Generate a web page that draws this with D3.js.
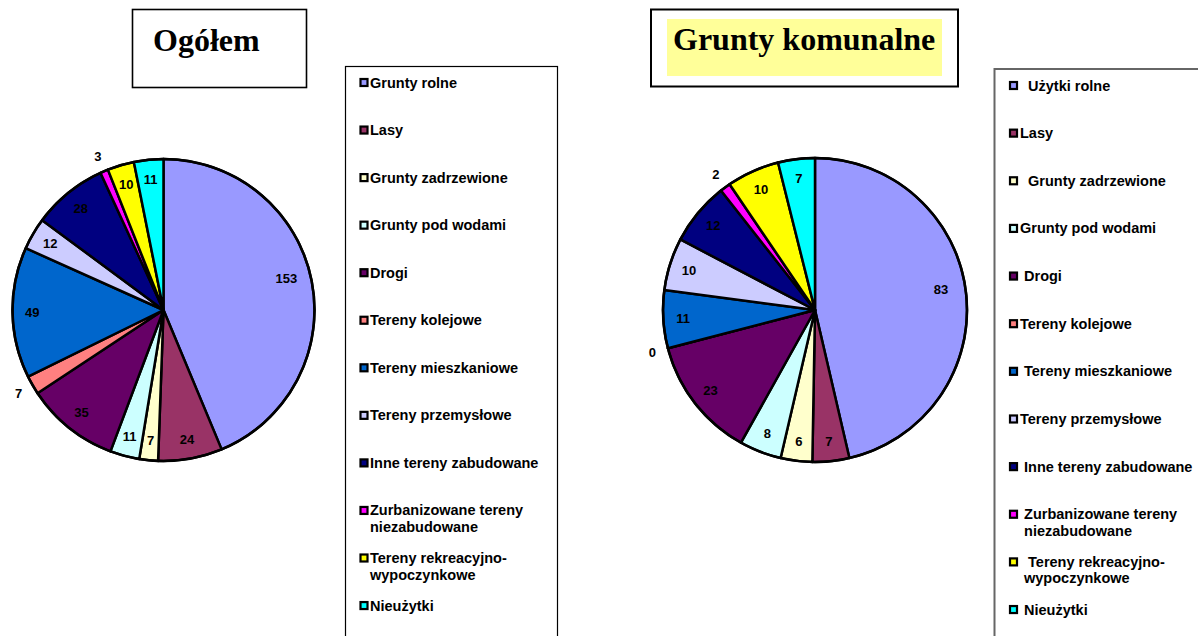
<!DOCTYPE html>
<html><head><meta charset="utf-8">
<script src="https://cdn.jsdelivr.net/npm/d3@7"></script>
<style>body{margin:0;background:#fff} svg{display:block}</style>
</head><body><svg id="c" width="1198" height="636"></svg>
<script>
const leftTitle = "Ogółem";
const rightTitle = "Grunty komunalne";
const leftCategories = ["Grunty rolne","Lasy","Grunty zadrzewione","Grunty pod wodami","Drogi","Tereny kolejowe","Tereny mieszkaniowe","Tereny przemysłowe","Inne tereny zabudowane","Zurbanizowane tereny\nniezabudowane","Tereny rekreacyjno-\nwypoczynkowe","Nieużytki"];
const rightCategories = ["  Użytki rolne","Lasy","  Grunty zadrzewione","Grunty pod wodami"," Drogi","Tereny kolejowe"," Tereny mieszkaniowe","Tereny przemysłowe"," Inne tereny zabudowane"," Zurbanizowane tereny\n niezabudowane","  Tereny rekreacyjno-\n wypoczynkowe"," Nieużytki"];
const leftValues = [153,24,7,11,35,7,49,12,28,3,10,11];
const rightValues = [83,7,6,8,23,0,11,10,12,2,10,7];
const sliceColors = ["#9999FF","#993366","#FFFFCC","#CCFFFF","#660066","#FF8080","#0066CC","#CCCCFF","#000080","#FF00FF","#FFFF00","#00FFFF"];

const svg = d3.select("#c");
const SANS = "'Liberation Sans', Arial, sans-serif";
const SERIF = "'Liberation Serif', 'Times New Roman', serif";

function drawPie(values, cx, cy, r) {
  const g = svg.append("g").attr("transform", `translate(${cx},${cy})`);
  const pie = d3.pie().sort(null).value(d => d);
  const arcs = pie(values);
  const arc = d3.arc().innerRadius(0).outerRadius(r);
  g.selectAll("path.slice").data(arcs).join("path")
    .attr("class", "slice")
    .attr("d", arc)
    .attr("fill", (d, i) => sliceColors[i])
    .attr("stroke", "#000")
    .attr("stroke-width", 2.5)
    .attr("stroke-linejoin", "round");
  g.append("circle").attr("r", r).attr("fill", "none").attr("stroke", "#000").attr("stroke-width", 2.5);
  const fs = 13;
  g.selectAll("text.lbl").data(arcs).join("text")
    .attr("class", "lbl")
    .each(function(d) {
      let phi = (d.startAngle + d.endAngle) / 2;
      const span = d.endAngle - d.startAngle;
      const w = String(d.data).length * 0.556 * fs;
      const h = 0.72 * fs;
      const big = span > Math.PI * 0.6;
      let rho = big ? 0.84 * r : 0.87 * r;
      if (big) phi -= 0.05;
      const extent = w * Math.abs(Math.cos(phi)) + h * Math.abs(Math.sin(phi));
      const avail = rho * span;
      if (avail < extent + 6) rho = r + 16;
      d3.select(this)
        .attr("x", rho * Math.sin(phi))
        .attr("y", -rho * Math.cos(phi));
    })
    .attr("text-anchor", "middle")
    .attr("dominant-baseline", "central")
    .attr("font-family", SANS)
    .attr("font-weight", "bold")
    .attr("font-size", fs)
    .attr("fill", "#000")
    .text(d => d.data);
}

function drawLegend(cats, bx, by, bw, bStroke, bWidth, mx, tx, y0, step) {
  svg.append("rect").attr("x", bx).attr("y", by).attr("width", bw).attr("height", 700)
    .attr("fill", "#fff").attr("stroke", bStroke).attr("stroke-width", bWidth);
  cats.forEach((c, i) => {
    const y = y0 + i * step;
    svg.append("rect").attr("x", mx).attr("y", y - 3.5).attr("width", 7).attr("height", 7)
      .attr("fill", sliceColors[i]).attr("stroke", "#000").attr("stroke-width", 2.2);
    const t = svg.append("text")
      .attr("font-family", SANS).attr("font-weight", "bold").attr("font-size", 14.5)
      .attr("fill", "#000").attr("xml:space", "preserve").style("white-space", "pre");
    c.split("\n").forEach((line, j) => {
      t.append("tspan").attr("x", tx).attr("y", y + j * 16.5)
        .attr("dominant-baseline", "central").text(line);
    });
  });
}

// Title boxes
svg.append("rect").attr("x", 132.5).attr("y", 9.5).attr("width", 174).attr("height", 78)
  .attr("fill", "#fff").attr("stroke", "#000").attr("stroke-width", 1.6);
svg.append("text").attr("x", 153).attr("y", 51).attr("font-family", SERIF).attr("font-weight", "bold")
  .attr("font-size", 32).attr("fill", "#000").text(leftTitle);

svg.append("rect").attr("x", 651).attr("y", 9.5).attr("width", 307).attr("height", 77)
  .attr("fill", "#fff").attr("stroke", "#000").attr("stroke-width", 2);
svg.append("rect").attr("x", 667).attr("y", 19).attr("width", 275).attr("height", 57).attr("fill", "#FFFF99");
svg.append("text").attr("x", 673).attr("y", 50).attr("font-family", SERIF).attr("font-weight", "bold")
  .attr("font-size", 32).attr("fill", "#000").text(rightTitle);

drawPie(leftValues, 163.5, 310, 151);
drawPie(rightValues, 815, 310, 152);

drawLegend(leftCategories, 345.5, 66.5, 212, "#000", 1.2, 360.5, 370, 82.5, 47.55);
drawLegend(rightCategories, 994.5, 69, 260, "#666", 2, 1010, 1020, 85.5, 47.64);
</script></body></html>
